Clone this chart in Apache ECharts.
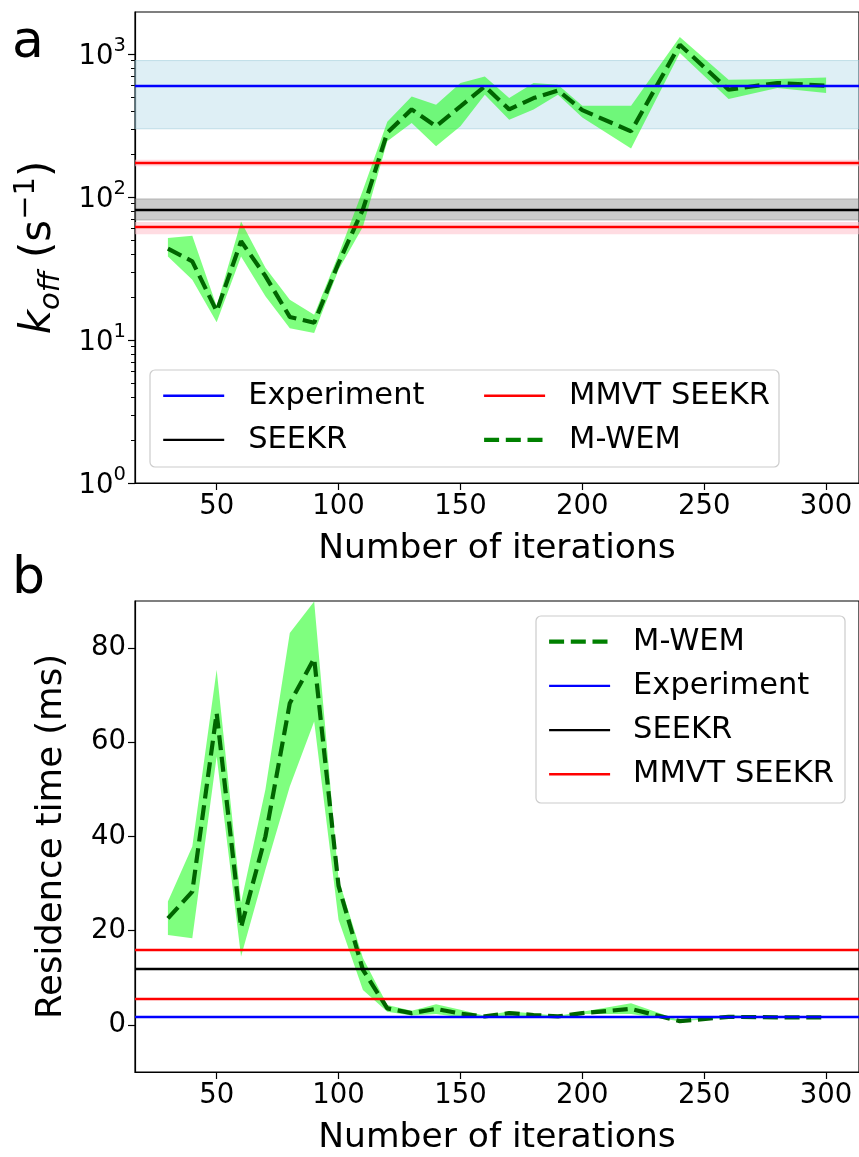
<!DOCTYPE html>
<html><head><meta charset="utf-8">
<script src="https://cdn.jsdelivr.net/npm/echarts@6/dist/echarts.min.js"></script>
<style>html,body{margin:0;padding:0;background:#fff}#c{width:859px;height:1157px}</style>
</head><body><div id="c"></div>
<script>
// ---- data ----
const iterations = [30,40,50,60,70,80,90,100,110,120,130,140,150,160,170,180,190,200,220,240,260,280,300];
const koffMean = [43.5,35.5,15.9,49,28,14.5,13.2,34.5,82,282,410,312,430,594,410,492,556,405,288,1161,563,627,600];
const koffLow  = [38.4,26.4,13.3,38.4,20.2,12.1,11.2,31,62,245,329,226,312,519,347,410,519,360,218,1016,484,578,534];
const koffHigh = [51.7,53.6,17.2,67.5,32,19.1,15.0,39.5,112,336,505,441,627,697,492,627,610,435,435,1315,661,668,686];
const rtMean = [22.6,28.3,66.2,20.7,40,68.3,77.8,29.5,11.7,3.5,2.5,3.4,2.4,1.8,2.5,2.1,1.8,2.5,3.4,0.8,1.7,1.6,1.6];
const rtLow  = [19.1,18.4,57,14.5,33,50.6,64.4,22.3,7.4,2.8,2.0,2.3,1.6,1.5,2.0,1.6,1.6,2.3,2.3,0.75,1.5,1.5,1.5];
const rtHigh = [26.2,37.9,75.4,26,50,83.2,89.9,31,14.2,4.2,3.0,4.4,3.2,1.95,2.9,2.4,1.95,2.8,4.6,1.0,2.1,1.7,1.9];
// reference values (top: koff in s^-1, bottom: residence time in ms)
const expKoff = 600, expKoffBand = [300, 900];
const seekrKoff = 82, seekrKoffBand = [69, 97];
const mmvtKoff = [62, 173];
const mmvtKoffBands = [[55, 67], [164, 182]];
const expRt = 1.65, seekrRt = 12.0, mmvtRt = [5.6, 15.9];
// ticks
const xTicks = [50,100,150,200,250,300];
const topYTicks = [1,10,100,1000];
const topYTickExps = ['0','1','2','3'];
const topMinorTicks = [2,3,4,5,6,7,8,9,20,30,40,50,60,70,80,90,200,300,400,500,600,700,800,900];
const botYTicks = [0,20,40,60,80];

const FONT = 'DejaVu Sans';
const LW = 2.4;
const chart = echarts.init(document.getElementById('c'), null, {renderer:'canvas'});

function band(xi, yi, lo, hi) {
  return {
    type:'custom', xAxisIndex:xi, yAxisIndex:yi, z:1, silent:true, clip:true,
    data:[[iterations[0], hi[0]]],
    renderItem:function(params, api){
      const pts=[];
      for (let i=0;i<iterations.length;i++) pts.push(api.coord([iterations[i], hi[i]]));
      for (let i=iterations.length-1;i>=0;i--) pts.push(api.coord([iterations[i], lo[i]]));
      return {type:'polygon', shape:{points:pts}, style:{fill:'rgba(0,255,0,0.5)'}};
    }
  };
}
function hline(name, color, vals, xi, yi) {
  return {
    name:name, type:'line', xAxisIndex:xi, yAxisIndex:yi, data:[], z:3, silent:true,
    symbol:'none', color:color, lineStyle:{color:color, width:LW},
    markLine:{silent:true, symbol:'none', label:{show:false}, animation:false,
      lineStyle:{color:color, width:LW, type:'solid'},
      data: vals.map(v=>({yAxis:v}))}
  };
}
function mwem(xi, yi, vals) {
  return {
    name:'M-WEM', type:'line', xAxisIndex:xi, yAxisIndex:yi, z:4, silent:true,
    symbol:'none', color:'#006400',
    lineStyle:{color:'#006400', width:4.2, type:[15,6.7]},
    data: iterations.map((x,i)=>[x, vals[i]])
  };
}
function xAxisCfg(gi) {
  return {
    type:'value', gridIndex:gi, min:16.5, max:313.5,
    name:'Number of iterations', nameLocation:'middle', nameGap:49,
    nameTextStyle:{fontFamily:FONT, fontSize:34.5, color:'#000'},
    axisLine:{show:true, onZero:false, lineStyle:{color:'#000', width:1.2}},
    axisTick:{show:true, inside:false, length:7, lineStyle:{color:'#000', width:1.2}, customValues:xTicks},
    axisLabel:{show:true, margin:10, fontFamily:FONT, fontSize:27.5, color:'#000', customValues:xTicks},
    splitLine:{show:false}
  };
}
const gridBase = {left:135, width:725, height:471, show:true, borderColor:'#000', borderWidth:1.2, backgroundColor:'rgba(0,0,0,0)'};
const mwemLegend = {name:'M-WEM', lineStyle:{color:'#008000', width:4.2, type:[15,6.7]}, itemStyle:{color:'#008000', opacity:0}};
const legendBase = {orient:'vertical', padding:0, itemGap:10.2, itemWidth:61, itemHeight:14, selectedMode:false,
  itemStyle:{opacity:0}, lineStyle:{width:LW},
  textStyle:{fontFamily:FONT, fontSize:30.5, lineHeight:34, color:'#000', padding:[0,0,0,19]}};

const option = {
  animation:false,
  backgroundColor:'#fff',
  textStyle:{fontFamily:FONT},
  grid:[Object.assign({top:12}, gridBase), Object.assign({top:601}, gridBase)],
  xAxis:[xAxisCfg(0), xAxisCfg(1)],
  yAxis:[
    { type:'log', logBase:10, gridIndex:0, min:1, max:1967,
      name:'{k|k}{sub|off} (s{sup|−1})', nameLocation:'middle', nameGap:69,
      nameTextStyle:{fontFamily:FONT, fontSize:42, color:'#000',
        rich:{k:{fontStyle:'italic', fontSize:42, lineHeight:54, fontFamily:FONT},
              sub:{fontStyle:'italic', fontSize:29, lineHeight:28, verticalAlign:'bottom', fontFamily:FONT},
              sup:{fontSize:29, lineHeight:28, verticalAlign:'top', fontFamily:FONT}}},
      axisLine:{show:true, onZero:false, lineStyle:{color:'#000', width:1.2}},
      axisTick:{show:true, length:7, lineStyle:{color:'#000', width:1.2}, customValues:topYTicks},
      axisLabel:{show:true, margin:9, color:'#000', customValues:topYTicks,
        formatter:function(v){
          let idx=0; for(let i=0;i<topYTicks.length;i++){ if(Math.abs(Math.log10(v)-Math.log10(topYTicks[i]))<1e-6) idx=i; }
          return '{b|10}{s|'+topYTickExps[idx]+'}';
        },
        rich:{b:{fontFamily:FONT, fontSize:27.5, lineHeight:36, color:'#000', padding:[6,0,0,0]},
              s:{fontFamily:FONT, fontSize:19.5, lineHeight:20, verticalAlign:'top', color:'#000'}}},
      splitLine:{show:false}
    },
    { type:'log', logBase:10, gridIndex:0, min:1, max:1967, position:'left',
      axisLine:{show:false}, axisLabel:{show:false}, splitLine:{show:false},
      axisTick:{show:true, length:4, lineStyle:{color:'#000', width:1}, customValues:topMinorTicks}
    },
    { type:'value', gridIndex:1, min:-10, max:90,
      name:'Residence time (ms)', nameLocation:'middle', nameGap:65,
      nameTextStyle:{fontFamily:FONT, fontSize:35.5, color:'#000'},
      axisLine:{show:true, onZero:false, lineStyle:{color:'#000', width:1.2}},
      axisTick:{show:true, length:7, lineStyle:{color:'#000', width:1.2}, customValues:botYTicks},
      axisLabel:{show:true, margin:9, fontFamily:FONT, fontSize:27.5, color:'#000', customValues:botYTicks},
      splitLine:{show:false}
    }
  ],
  legend:[
    Object.assign({}, legendBase, { data:['Experiment','SEEKR'], left:162, top:378.7 }),
    Object.assign({}, legendBase, { data:['MMVT SEEKR', mwemLegend], left:482, top:378.7 }),
    Object.assign({}, legendBase, { data:[mwemLegend,'Experiment','SEEKR','MMVT SEEKR'], left:547, top:624.7,
      textStyle:{fontFamily:FONT, fontSize:30.5, lineHeight:34, color:'#000', padding:[0,0,0,18]} })
  ],
  graphic:[
    {type:'rect', shape:{x:150, y:370, width:629, height:97, r:5}, z:3, silent:true,
     style:{fill:'rgba(255,255,255,0.8)', stroke:'#cccccc', lineWidth:1.2}},
    {type:'rect', shape:{x:536, y:616, width:309, height:187, r:5}, z:3, silent:true,
     style:{fill:'rgba(255,255,255,0.8)', stroke:'#cccccc', lineWidth:1.2}},
    {type:'text', left:12, top:17, z:5, style:{text:'a', fontFamily:FONT, fontSize:52, fill:'#000'}},
    {type:'text', left:12, top:553, z:5, style:{text:'b', fontFamily:FONT, fontSize:52, fill:'#000'}}
  ],
  series:[
    band(0, 0, koffLow, koffHigh),
    { name:'bandsTop', type:'line', xAxisIndex:0, yAxisIndex:0, data:[], z:2, silent:true,
      markArea:{silent:true, animation:false, data:[
        [{yAxis:expKoffBand[0], itemStyle:{color:'rgba(173,216,230,0.4)', borderColor:'rgba(150,200,215,0.5)', borderWidth:1}}, {yAxis:expKoffBand[1]}],
        [{yAxis:seekrKoffBand[0], itemStyle:{color:'rgba(128,128,128,0.4)', borderColor:'rgba(110,110,110,0.4)', borderWidth:1}}, {yAxis:seekrKoffBand[1]}],
        [{yAxis:mmvtKoffBands[0][0], itemStyle:{color:'rgba(255,192,203,0.55)'}}, {yAxis:mmvtKoffBands[0][1]}],
        [{yAxis:mmvtKoffBands[1][0], itemStyle:{color:'rgba(255,192,203,0.55)'}}, {yAxis:mmvtKoffBands[1][1]}]
      ]}
    },
    hline('Experiment', '#0000ff', [expKoff], 0, 0),
    hline('SEEKR', '#000000', [seekrKoff], 0, 0),
    hline('MMVT SEEKR', '#ff0000', mmvtKoff, 0, 0),
    mwem(0, 0, koffMean),
    band(1, 2, rtLow, rtHigh),
    hline('Experiment', '#0000ff', [expRt], 1, 2),
    hline('SEEKR', '#000000', [seekrRt], 1, 2),
    hline('MMVT SEEKR', '#ff0000', mmvtRt, 1, 2),
    mwem(1, 2, rtMean)
  ]
};
chart.setOption(option);
</script>
</body></html>
